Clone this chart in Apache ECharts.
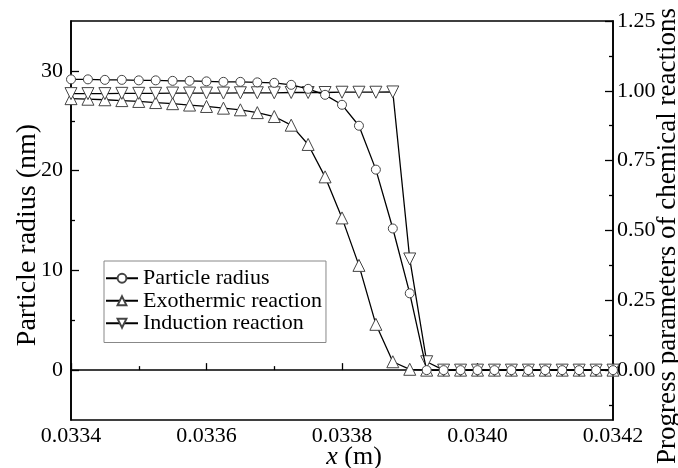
<!DOCTYPE html>
<html>
<head>
<meta charset="utf-8">
<script src="https://cdn.jsdelivr.net/npm/echarts@6/dist/echarts.min.js"></script>
<style>
html,body{margin:0;padding:0;background:#fff;}
#chart{width:678px;height:468px;}
</style>
</head>
<body>
<div id="chart"></div>
<script>
// x positions (m)
var xs = [0.033400, 0.033425, 0.033450, 0.033475, 0.033500, 0.033525, 0.033550, 0.033575,
          0.033600, 0.033625, 0.033650, 0.033675, 0.033700, 0.033725, 0.033750, 0.033775,
          0.033800, 0.033825, 0.033850, 0.033875, 0.033900, 0.033925, 0.033950, 0.033975,
          0.034000, 0.034025, 0.034050, 0.034075, 0.034100, 0.034125, 0.034150, 0.034175, 0.034200];
// Particle radius (nm) - left axis
var radius = [29.15, 29.15, 29.1, 29.1, 29.05, 29.05, 29.0, 29.0, 28.95, 28.9, 28.9, 28.85, 28.8,
              28.6, 28.2, 27.6, 26.6, 24.5, 20.1, 14.2, 7.7, 0.0, 0, 0, 0, 0, 0, 0, 0, 0, 0, 0, 0];
// Exothermic reaction progress - right axis
var exo = [0.972, 0.970, 0.968, 0.965, 0.962, 0.958, 0.954, 0.949, 0.944, 0.938, 0.932, 0.922, 0.908,
           0.877, 0.808, 0.692, 0.545, 0.375, 0.164, 0.030, 0.003, 0, 0, 0, 0, 0, 0, 0, 0, 0, 0, 0, 0];
// Induction reaction progress - right axis
var induction = [0.990, 0.990, 0.990, 0.991, 0.991, 0.991, 0.992, 0.992, 0.992, 0.992, 0.993, 0.993, 0.993,
                 0.994, 0.994, 0.994, 0.995, 0.995, 0.995, 0.996, 0.398, 0.030, 0, 0, 0, 0, 0, 0, 0, 0, 0, 0, 0];
var seriesNames = ['Particle radius', 'Exothermic reaction', 'Induction reaction'];
var leftLabels = [0, 10, 20, 30];
var leftMinor = [5, 15, 25];
var rightLabels = [0, 0.25, 0.5, 0.75, 1.0, 1.25];
var rightMinor = [-0.125, 0.125, 0.375, 0.625, 0.875, 1.125];

function pairs(x, y) { return x.map(function (v, i) { return [v, y[i]]; }); }

var FONT = 'Liberation Serif';
var chart = echarts.init(document.getElementById('chart'), null, {renderer: 'canvas'});
var lineStyle = {color: '#000', width: 1.3};
var markStyle = {color: '#fff', borderColor: '#444', borderWidth: 1};

chart.setOption({
  animation: false,
  backgroundColor: '#fff',
  grid: {left: 71, right: 65, top: 21, bottom: 48, show: true, borderColor: '#000', borderWidth: 1.6, backgroundColor: 'transparent'},
  legend: {
    left: 104, top: 261, orient: 'vertical',
    data: seriesNames,
    borderColor: '#888', borderWidth: 1,
    padding: [6, 4, 8, 1], itemGap: 0,
    itemWidth: 32, itemHeight: 11,
    textStyle: {fontFamily: FONT, fontSize: 22, color: '#000', lineHeight: 22.5}
  },
  xAxis: [{
    type: 'value', min: 0.0334, max: 0.0342, interval: 0.0002,
    axisLine: {show: true, lineStyle: {color: '#000', width: 1.6}},
    axisTick: {show: true, inside: true, length: 7, lineStyle: {color: '#000', width: 1.3}},
    minorTick: {show: true, splitNumber: 2, length: 4, lineStyle: {color: '#000', width: 1.3}},
    splitLine: {show: false},
    axisLabel: {margin: 5, fontFamily: FONT, fontSize: 22, color: '#000', formatter: function (v) { return v.toFixed(4); }}
  }],
  yAxis: [{
    type: 'value', position: 'left', min: -5, max: 35,
    axisLine: {show: true, lineStyle: {color: '#000', width: 1.6}},
    axisTick: {show: true, inside: true, length: 8, customValues: leftLabels, lineStyle: {color: '#000', width: 1.3}},
    axisLabel: {margin: 8, customValues: leftLabels, fontFamily: FONT, fontSize: 22, color: '#000'},
    splitLine: {show: false}
  }, {
    type: 'value', position: 'right', min: -5 / 28, max: 1.25,
    axisLine: {show: true, lineStyle: {color: '#000', width: 1.6}},
    axisTick: {show: true, inside: true, length: 8, customValues: rightLabels, lineStyle: {color: '#000', width: 1.3}},
    axisLabel: {margin: 4, customValues: rightLabels, fontFamily: FONT, fontSize: 22, color: '#000',
      formatter: function (v) { return v.toFixed(2); }},
    splitLine: {show: false}
  }, {
    type: 'value', position: 'left', min: -5, max: 35,
    axisLine: {show: false},
    axisTick: {show: true, inside: true, length: 4, customValues: leftMinor, lineStyle: {color: '#000', width: 1.3}},
    axisLabel: {show: false},
    splitLine: {show: false}
  }, {
    type: 'value', position: 'right', min: -5 / 28, max: 1.25,
    axisLine: {show: false},
    axisTick: {show: true, inside: true, length: 4, customValues: rightMinor, lineStyle: {color: '#000', width: 1.3}},
    axisLabel: {show: false},
    splitLine: {show: false}
  }],
  graphic: [{
    type: 'text', x: 28, y: 235, rotation: Math.PI / 2,
    style: {text: 'Particle radius (nm)', font: '28px "Liberation Serif"', fill: '#000', align: 'center', verticalAlign: 'middle'}
  }, {
    type: 'text', x: 668, y: 236, rotation: Math.PI / 2,
    style: {text: 'Progress parameters of chemical reactions', font: '27px "Liberation Serif"', fill: '#000', align: 'center', verticalAlign: 'middle'}
  }, {
    type: 'text', x: 354, y: 457,
    style: {text: '{i|x} (m)', font: '26px "Liberation Serif"', fill: '#000', align: 'center', verticalAlign: 'middle',
      rich: {i: {fontStyle: 'italic', fontFamily: FONT, fontSize: 26, fill: '#000'}}}
  }],
  series: [{
    name: seriesNames[0], type: 'line', yAxisIndex: 0, data: pairs(xs, radius),
    symbol: 'circle', symbolSize: 9, showAllSymbol: true,
    lineStyle: lineStyle, itemStyle: markStyle, z: 3
  }, {
    name: seriesNames[1], type: 'line', yAxisIndex: 1, data: pairs(xs, exo),
    symbol: 'triangle', symbolSize: 12, showAllSymbol: true,
    lineStyle: lineStyle, itemStyle: markStyle, z: 2
  }, {
    name: seriesNames[2], type: 'line', yAxisIndex: 1, data: pairs(xs, induction),
    symbol: 'triangle', symbolRotate: 180, symbolSize: 12, showAllSymbol: true,
    lineStyle: lineStyle, itemStyle: markStyle, z: 2
  }]
});
</script>
</body>
</html>
